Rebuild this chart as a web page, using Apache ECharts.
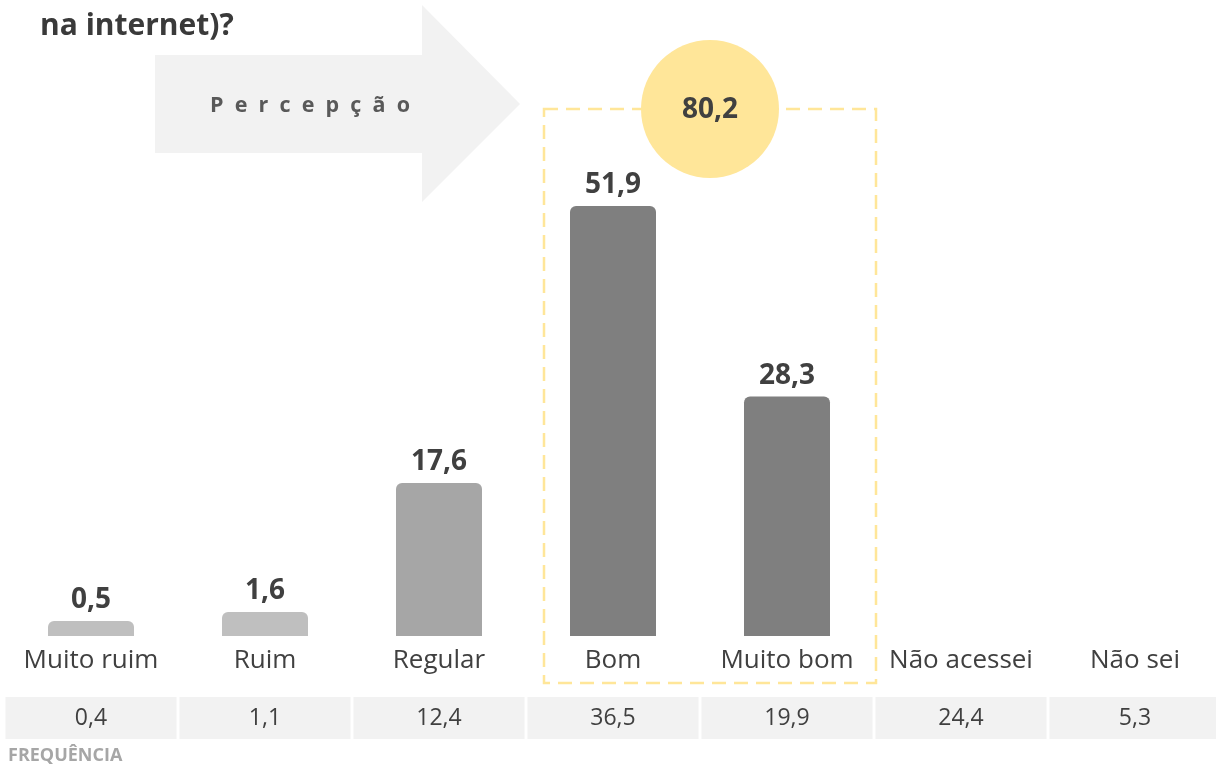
<!DOCTYPE html>
<html>
<head>
<meta charset="utf-8">
<script src="https://cdn.jsdelivr.net/npm/echarts@6/dist/echarts.min.js"></script>
<style>
  html, body { margin: 0; padding: 0; background: #ffffff; }
  #chart { width: 1216px; height: 766px; }
</style>
</head>
<body>
<div id="chart"></div>
<script>
// Answer categories
const categories = ['Muito ruim', 'Ruim', 'Regular', 'Bom', 'Muito bom', 'Não acessei', 'Não sei'];
// Percentage among those who accessed (bars)
const percentValues = [0.5, 1.6, 17.6, 51.9, 28.3, null, null];
// Overall frequency row
const frequencyValues = [0.4, 1.1, 12.4, 36.5, 19.9, 24.4, 5.3];

const FONT = '"Open Sans", "Noto Sans", sans-serif';
const fmt = v => v.toFixed(1).replace('.', ',');

// bar fill per answer group
const barColors = ['#BFBFBF', '#BFBFBF', '#A6A6A6', '#7F7F7F', '#7F7F7F', '#7F7F7F', '#7F7F7F'];

// positive perception = Bom + Muito bom
const positiveTotal = percentValues[3] + percentValues[4];

const chart = echarts.init(document.getElementById('chart'), null, { renderer: 'canvas' });

chart.setOption({
  animation: false,
  backgroundColor: '#ffffff',
  title: {
    text: 'na internet)?',
    left: 35,
    top: 6,
    textStyle: { fontFamily: FONT, fontSize: 30, fontWeight: 'bold', color: '#3A3A3A' }
  },
  grid: { left: 4, width: 1218, top: 206, bottom: 130, containLabel: false, outerBoundsMode: 'none' },
  xAxis: [
    {
      type: 'category',
      data: categories,
      position: 'bottom',
      axisLine: { show: false },
      axisTick: { show: false },
      axisLabel: {
        interval: 0,
        margin: 12,
        fontFamily: FONT,
        fontSize: 26,
        color: '#404040'
      }
    },
    {
      type: 'category',
      data: frequencyValues.map(fmt),
      position: 'bottom',
      offset: 0,
      axisLine: { show: false },
      axisTick: { show: false },
      axisLabel: {
        interval: 0,
        margin: 61,
        fontFamily: FONT,
        fontSize: 23,
        color: '#404040',
        backgroundColor: '#F2F2F2',
        width: 171,
        height: 42,
        lineHeight: 42,
        align: 'center',
        padding: 0
      }
    }
  ],
  yAxis: {
    type: 'value',
    min: -1.36,
    max: 51.9,
    startValue: -1.36,
    show: false,
    splitLine: { show: false }
  },
  series: [
    {
      type: 'bar',
      xAxisIndex: 0,
      barWidth: 86,
      data: percentValues.map((v, i) => ({
        value: v,
        itemStyle: { color: barColors[i], borderRadius: [6, 6, 0, 0] }
      })),
      label: {
        show: true,
        position: 'top',
        distance: 7,
        fontFamily: FONT,
        fontSize: 28,
        fontWeight: 'bold',
        color: '#404040',
        formatter: p => (p.value == null ? '' : fmt(p.value))
      }
    }
  ],
  graphic: [
    {
      type: 'polygon',
      z: 0,
      shape: { points: [[155, 55], [422, 55], [422, 5], [520, 104], [422, 202], [422, 153], [155, 153]] },
      style: { fill: '#F2F2F2' }
    },
    {
      type: 'text',
      z: 1,
      x: 210,
      y: 106,
      style: {
        text: 'P  e  r  c  e  p  ç  ã  o',
        font: 'bold 21.5px ' + FONT,
        fill: '#595959',
        verticalAlign: 'middle',
        align: 'left'
      }
    },
    {
      type: 'rect',
      z: 1,
      shape: { x: 544, y: 109, width: 332, height: 574 },
      style: { fill: null, stroke: '#FFE699', lineWidth: 2.5, lineDash: [14, 8] }
    },
    {
      type: 'circle',
      z: 2,
      shape: { cx: 710, cy: 109, r: 69 },
      style: { fill: '#FFE699' }
    },
    {
      type: 'text',
      z: 3,
      x: 710,
      y: 110,
      style: {
        text: fmt(positiveTotal),
        font: 'bold 28px ' + FONT,
        fill: '#404040',
        align: 'center',
        verticalAlign: 'middle'
      }
    },
    {
      type: 'text',
      z: 1,
      x: 8,
      y: 756,
      style: {
        text: 'FREQUÊNCIA',
        font: 'bold 18px ' + FONT,
        fill: '#A6A6A6',
        align: 'left',
        verticalAlign: 'middle'
      }
    }
  ]
});
</script>
</body>
</html>
